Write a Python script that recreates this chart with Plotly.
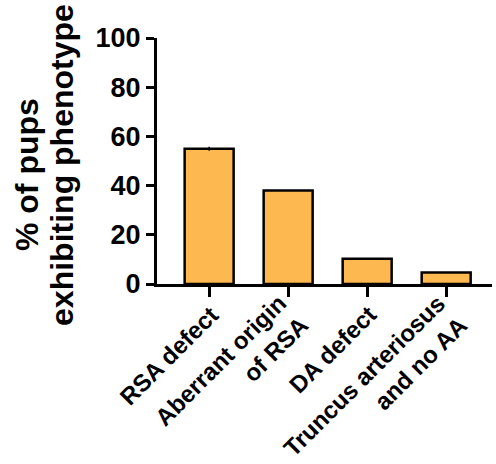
import plotly.graph_objects as go

categories = ["RSA defect", "Aberrant origin<br>of RSA", "DA defect", "Truncus arteriosus<br>and no AA"]
percent = [55, 38, 10.3, 4.7]
err = [0.8, 0, 0, 0]
y_ticks = [0, 20, 40, 60, 80, 100]
y_title_lines = ["% of pups", "exhibiting phenotype"]

FONT = "Liberation Sans, Arial, sans-serif"
LABEL_SIZE = 24
x_idx = list(range(len(categories)))

fig = go.Figure()
fig.add_trace(go.Bar(
    x=x_idx, y=percent, width=0.62,
    marker=dict(color="#FDB94F", line=dict(color="black", width=2.5)),
    error_y=dict(type="data", array=err, visible=True, color="black", thickness=1.5, width=0),
))

fig.update_layout(
    width=496, height=464,
    margin=dict(l=157, r=4, t=38, b=180, autoexpand=False),
    paper_bgcolor="white", plot_bgcolor="white",
    showlegend=False,
    xaxis=dict(
        range=[-0.66, 3.58], tickmode="array", tickvals=x_idx, showticklabels=False,
        showline=True, linecolor="black", linewidth=3,
        ticks="outside", ticklen=10, tickwidth=2.5, tickcolor="black",
        showgrid=False, zeroline=False, automargin=False,
    ),
    yaxis=dict(
        range=[0, 100], tickvals=y_ticks, showline=True, linecolor="black", linewidth=3,
        ticks="outside", ticklen=8, tickwidth=3, tickcolor="black",
        showgrid=False, zeroline=False, automargin=False,
        tickfont=dict(family=FONT, size=27, color="black", weight="bold"),
    ),
)

# Slanted category labels: the right end of each (possibly two-line) label
# sits just below and right of its tick.
for i, label in zip(x_idx, categories):
    n_lines = label.count("<br>") + 1
    half = 0.354 * LABEL_SIZE * 1.3 * n_lines
    fig.add_annotation(
        text=label, textangle=-45, align="right",
        xref="x", yref="paper", x=i, y=0,
        xanchor="right", yanchor="top",
        xshift=6 + half, yshift=-(25 - half),
        showarrow=False,
        font=dict(family=FONT, size=LABEL_SIZE, color="black", weight="bold"),
    )

# two-line rotated y-axis title, one annotation per line
for text, xpos, ypos in zip(y_title_lines, [27, 62], [0.443, 0.484]):
    fig.add_annotation(
        text=text, textangle=-90, xref="paper", yref="paper",
        x=(xpos - 157) / 335, y=ypos, xanchor="center", yanchor="middle",
        showarrow=False, font=dict(family=FONT, size=32, color="black", weight="bold"),
    )

fig.write_html("out.html")
